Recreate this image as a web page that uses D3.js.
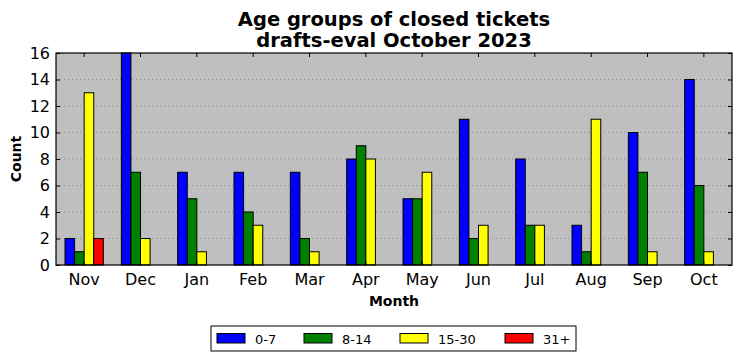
<!DOCTYPE html>
<html>
<head>
<meta charset="utf-8">
<script src="https://cdn.jsdelivr.net/npm/d3@7"></script>
<style>
  body { margin: 0; background: #fff; }
  svg text { font-family: "DejaVu Sans", sans-serif; }
</style>
</head>
<body>
<div id="chart"></div>
<script>
// chart data
const months = ["Nov", "Dec", "Jan", "Feb", "Mar", "Apr", "May", "Jun", "Jul", "Aug", "Sep", "Oct"];
const ageGroups = ["0-7", "8-14", "15-30", "31+"];
const colors = ["#0000ff", "#008000", "#ffff00", "#ff0000"];
const days0to7 = [2, 16, 7, 7, 7, 8, 5, 11, 8, 3, 10, 14];
const days8to14 = [1, 7, 5, 4, 2, 9, 5, 2, 3, 1, 7, 6];
const days15to30 = [13, 2, 1, 3, 1, 8, 7, 3, 3, 11, 1, 1];
const days31plus = [2, 0, 0, 0, 0, 0, 0, 0, 0, 0, 0, 0];
const yTicks = [0, 2, 4, 6, 8, 10, 12, 14, 16];

const series = [days0to7, days8to14, days15to30, days31plus];

const W = 741, H = 361;
const margin = { top: 53, right: 9, bottom: 96, left: 56 };
const width = W - margin.left - margin.right;
const height = H - margin.top - margin.bottom;

const svg = d3.select("#chart").append("svg")
  .attr("width", W)
  .attr("height", H);

const g = svg.append("g")
  .attr("transform", `translate(${margin.left},${margin.top})`);

const x = d3.scaleBand().domain(months).range([0, width]).padding(0);
const y = d3.scaleLinear().domain([0, 16]).range([height, 0]);

// background
g.append("rect")
  .attr("width", width).attr("height", height)
  .attr("fill", "#bfbfbf");

// grid
g.selectAll(".grid").data(yTicks.slice(1, -1)).enter().append("line")
  .attr("x1", 0).attr("x2", width)
  .attr("y1", d => y(d)).attr("y2", d => y(d))
  .attr("stroke", "#808080").attr("stroke-width", 0.8)
  .attr("stroke-dasharray", "1,3");

// bars, group takes ~0.68 of each month slot
const groupW = 0.68;
const sub = d3.scaleBand().domain(d3.range(ageGroups.length))
  .range([x.bandwidth() * (0.5 - groupW / 2), x.bandwidth() * (0.5 + groupW / 2)]).padding(0);

series.forEach((vals, si) => {
  g.append("g").selectAll("rect").data(vals).enter().append("rect")
    .attr("x", (d, i) => x(months[i]) + sub(si))
    .attr("y", d => y(d))
    .attr("width", sub.bandwidth())
    .attr("height", d => y(0) - y(d))
    .attr("fill", colors[si])
    .attr("stroke", "#000").attr("stroke-width", 1);
});

// axes
const xAxis = g.append("g").attr("transform", `translate(0,${height})`)
  .call(d3.axisBottom(x).tickSizeInner(-4).tickSizeOuter(0).tickPadding(9));
xAxis.select(".domain").remove();
xAxis.selectAll("text").attr("font-size", 16).attr("fill", "#000");

const xTop = g.append("g")
  .call(d3.axisTop(x).tickSizeInner(-4).tickSizeOuter(0).tickFormat(""));
xTop.select(".domain").remove();

const yAxis = g.append("g")
  .call(d3.axisLeft(y).tickValues(yTicks).tickSizeInner(-4).tickSizeOuter(0).tickPadding(6));
yAxis.select(".domain").remove();
yAxis.selectAll("text").attr("font-size", 16).attr("fill", "#000");

const yRight = g.append("g").attr("transform", `translate(${width},0)`)
  .call(d3.axisRight(y).tickValues(yTicks).tickSizeInner(-4).tickSizeOuter(0).tickFormat(""));
yRight.select(".domain").remove();

// frame
g.append("rect")
  .attr("width", width).attr("height", height)
  .attr("fill", "none").attr("stroke", "#000").attr("stroke-width", 1.2);

// title
const cx = margin.left + width / 2;
svg.append("text").attr("x", cx).attr("y", 26)
  .attr("text-anchor", "middle").attr("font-size", 19.5).attr("font-weight", "bold")
  .text("Age groups of closed tickets");
svg.append("text").attr("x", cx).attr("y", 47)
  .attr("text-anchor", "middle").attr("font-size", 19.5).attr("font-weight", "bold")
  .text("drafts-eval October 2023");

// axis labels
svg.append("text").attr("x", cx).attr("y", 306)
  .attr("text-anchor", "middle").attr("font-size", 14).attr("font-weight", "bold")
  .text("Month");
svg.append("text")
  .attr("transform", `translate(21,${margin.top + height / 2}) rotate(-90)`)
  .attr("text-anchor", "middle").attr("font-size", 14).attr("font-weight", "bold")
  .text("Count");

// legend
const legend = svg.append("g").attr("transform", "translate(211,326)");
legend.append("rect").attr("width", 365).attr("height", 25)
  .attr("fill", "#fff").attr("stroke", "#000").attr("stroke-width", 1);
const offsets = [6, 93, 189, 294];
ageGroups.forEach((name, i) => {
  const item = legend.append("g").attr("transform", `translate(${offsets[i]},0)`);
  item.append("rect").attr("x", 0).attr("y", 7.5).attr("width", 28).attr("height", 9.5)
    .attr("fill", colors[i]).attr("stroke", "#000").attr("stroke-width", 1);
  item.append("text").attr("x", 38).attr("y", 17.5)
    .attr("font-size", 13).text(name);
});
</script>
</body>
</html>
